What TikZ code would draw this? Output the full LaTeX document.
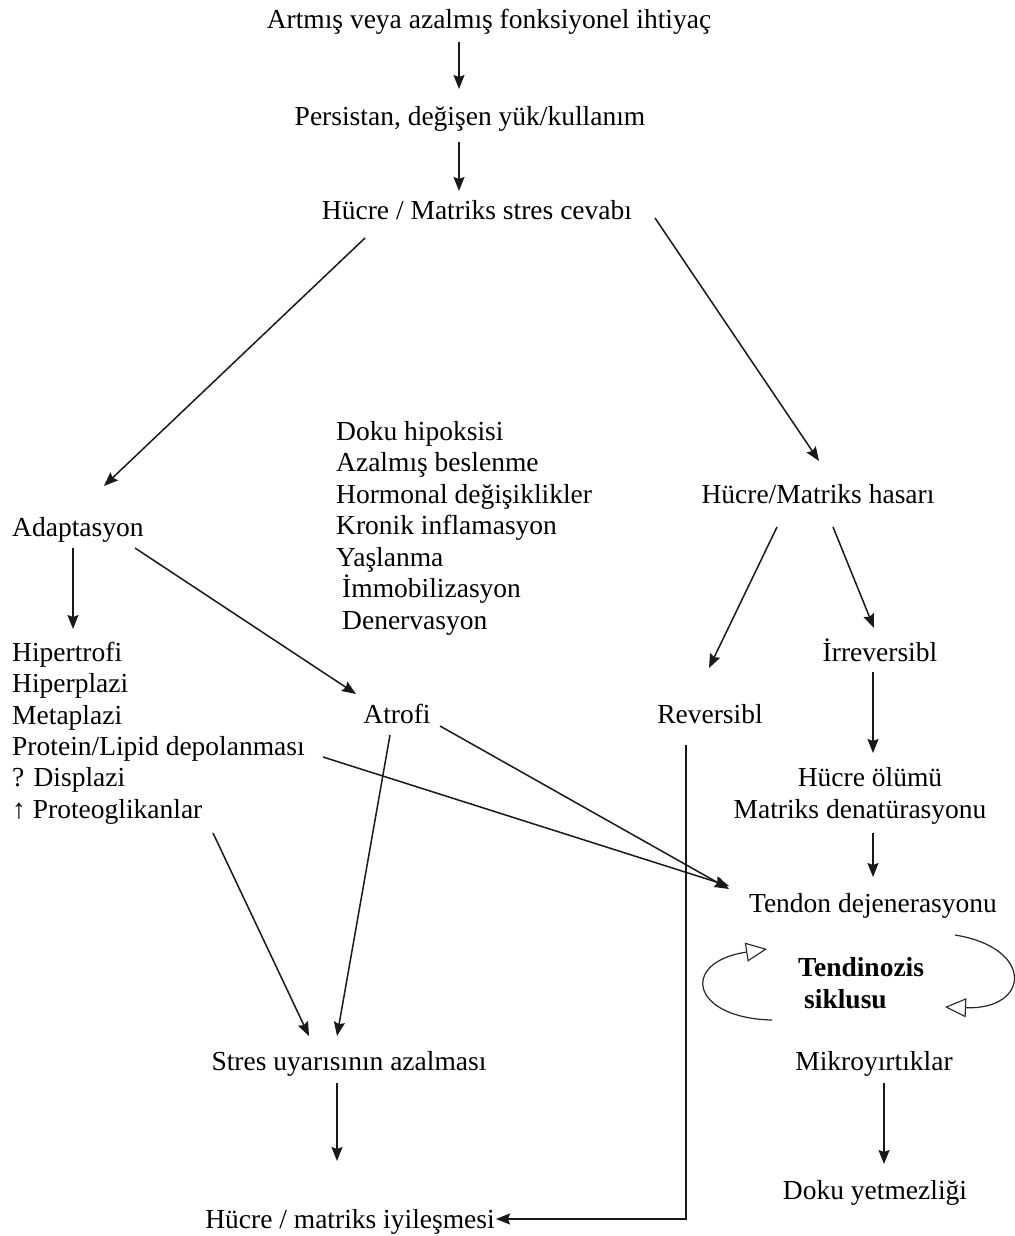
\documentclass[tikz,border=0pt]{standalone}
\usepackage{fontspec}
\setmainfont{Liberation Serif}
\usetikzlibrary{arrows.meta}
\begin{document}
\begin{tikzpicture}[x=1pt,y=-1pt,
  txt/.style={inner sep=0pt,font=\fontsize{27.5}{31.4}\selectfont},
  lt/.style={txt,anchor=base west},
  ct/.style={txt,anchor=base},
  arr/.style={line width=1.5pt,draw=black!90,-{Stealth[length=14pt,width=11pt,inset=2pt]}},
  cyc/.style={line width=1.2pt,draw=black!85,-{Triangle[open,length=21pt,width=19pt,line width=1.1pt]}}]
\useasboundingbox[fill=white] (0,0) rectangle (1014,1236);
% nodes
\node[ct] (a1) at (489,29) {Artmış veya azalmış fonksiyonel ihtiyaç};
\node[ct] (a2) at (470,125) {Persistan, değişen yük/kullanım};
\node[ct] (a3) at (477,219) {Hücre / Matriks stres cevabı};
\node[lt] (adapt) at (12,536) {Adaptasyon};
\node[ct] (hasar) at (818,503) {Hücre/Matriks hasarı};
\node[lt] (d1) at (336,440) {Doku hipoksisi};
\node[lt] (d2) at (336,471.5) {Azalmış beslenme};
\node[lt] (d3) at (336,503) {Hormonal değişiklikler};
\node[lt] (d4) at (336,534.5) {Kronik inflamasyon};
\node[lt] (d5) at (336,566) {Yaşlanma};
\node[lt] (d6) at (342,597.5) {İmmobilizasyon};
\node[lt] (d7) at (342,629) {Denervasyon};
\node[lt] (h1) at (12,661) {Hipertrofi};
\node[lt] (h2) at (12,692.5) {Hiperplazi};
\node[lt] (h3) at (12,724) {Metaplazi};
\node[lt] (h4) at (12,755) {Protein/Lipid depolanması};
\node[lt] (h5) at (12,786.5) {? Displazi};
\node[lt] (h6) at (12,818) {↑ Proteoglikanlar};
\node[ct] (atrofi) at (397,723) {Atrofi};
\node[ct] (rev) at (710,723) {Reversibl};
\node[ct] (irr) at (880,661) {İrreversibl};
\node[ct] (olum) at (870,786) {Hücre ölümü};
\node[ct] (denat) at (860,818) {Matriks denatürasyonu};
\node[ct] (tendon) at (873,912) {Tendon dejenerasyonu};
\node[lt,font=\fontsize{27.5}{31.4}\selectfont\bfseries] (tz1) at (798,976) {Tendinozis};
\node[lt,font=\fontsize{27.5}{31.4}\selectfont\bfseries] (tz2) at (804,1008) {siklusu};
\node[ct] (mikro) at (874,1070) {Mikroyırtıklar};
\node[ct] (yetm) at (875,1199) {Doku yetmezliği};
\node[ct] (stres) at (349,1070) {Stres uyarısının azalması};
\node[ct] (iyi) at (350,1228) {Hücre / matriks iyileşmesi};
% connector end points
\coordinate (a1o) at (459,42);  \coordinate (a2i) at (459,89);
\coordinate (a2o) at (459,142); \coordinate (a3i) at (459,191);
\coordinate (a3l) at (365,238); \coordinate (adi) at (104,486);
\coordinate (a3r) at (655,218); \coordinate (hai) at (819,461);
\coordinate (ado) at (73,548);  \coordinate (h1i) at (73,629);
\coordinate (ado2) at (135,548); \coordinate (ati) at (356,694);
\coordinate (hal) at (777,527); \coordinate (rvi) at (709,668);
\coordinate (har) at (833,527); \coordinate (iri) at (874,628);
\coordinate (iro) at (873,672); \coordinate (oli) at (873,753);
\coordinate (deo) at (873,833); \coordinate (tei) at (873,877);
\coordinate (h4o) at (323,757); \coordinate (tel1) at (729,886);
\coordinate (ato) at (440,726); \coordinate (tel2) at (729,889);
\coordinate (h6o) at (213,833); \coordinate (sti1) at (309,1036);
\coordinate (ato2) at (390,735); \coordinate (sti2) at (337,1036);
\coordinate (sto) at (337,1083); \coordinate (iyt) at (337,1161);
\coordinate (mio) at (884,1083); \coordinate (yei) at (884,1164);
\coordinate (rvo) at (686,745); \coordinate (rvc) at (686,1219); \coordinate (iyr) at (496,1219);
\coordinate (c1s) at (772,1020); \coordinate (c1e) at (767,949);
\coordinate (c2s) at (955,935); \coordinate (c2e) at (945,1007);
% connectors
\draw[arr] (a1o) -- (a2i);
\draw[arr] (a2o) -- (a3i);
\draw[arr] (a3l) -- (adi);
\draw[arr] (a3r) -- (hai);
\draw[arr] (ado) -- (h1i);
\draw[arr] (ado2) -- (ati);
\draw[arr] (hal) -- (rvi);
\draw[arr] (har) -- (iri);
\draw[arr] (iro) -- (oli);
\draw[arr] (deo) -- (tei);
\draw[arr] (h4o) -- (tel1);
\draw[arr] (ato) -- (tel2);
\draw[arr] (h6o) -- (sti1);
\draw[arr] (ato2) -- (sti2);
\draw[arr] (sto) -- (iyt);
\draw[arr] (mio) -- (yei);
\draw[arr] (rvo) -- (rvc) -- (iyr);
\draw[cyc] (c1s) .. controls (690,1018) and (680,962) .. (c1e);
\draw[cyc] (c2s) .. controls (1035,948) and (1030,1010) .. (c2e);
\end{tikzpicture}
\end{document}
